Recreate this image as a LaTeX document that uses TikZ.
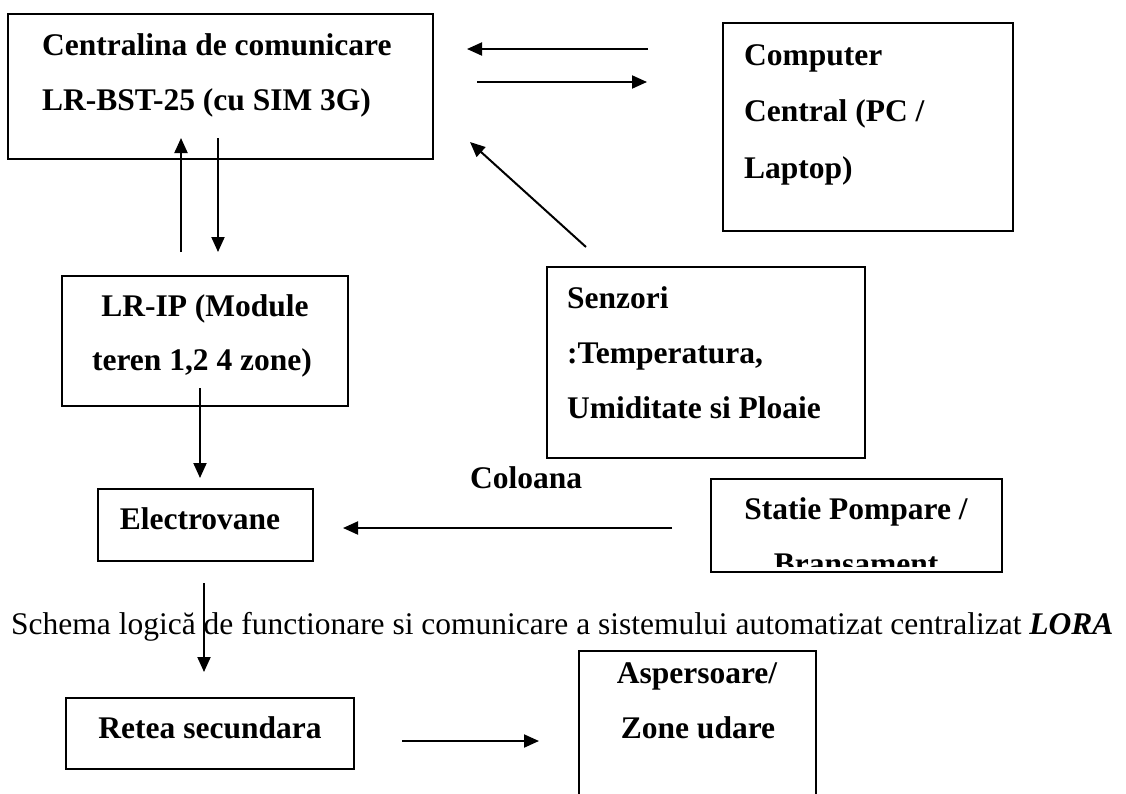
\documentclass[tikz,border=0pt]{standalone}
\usepackage{fontspec}
\setmainfont{Liberation Serif}
\usetikzlibrary{arrows.meta}
\begin{document}
\begin{tikzpicture}[x=1pt,y=-1pt,
  box/.style={draw, line width=2.4pt, inner sep=0pt},
  lbl/.style={inner sep=0pt, anchor=base west, font=\fontsize{31.5}{38}\selectfont\bfseries},
  clbl/.style={lbl, anchor=base},
  conn/.style={line width=2pt, -{Triangle[length=15pt,width=13pt]}}]
\useasboundingbox (0,0) rectangle (1126,793);
\clip (0,0) rectangle (1126,793);
% boxes
\node[box, minimum width=425pt, minimum height=145pt] (cen) at (220.5,86.5) {};
\node[box, minimum width=290pt, minimum height=208pt] (comp) at (868,127) {};
\node[box, minimum width=286pt, minimum height=130pt] (lrip) at (205,341) {};
\node[box, minimum width=318pt, minimum height=191pt] (senz) at (706,362.5) {};
\node[box, minimum width=215pt, minimum height=72pt] (elec) at (205.5,525) {};
\node[box, minimum width=291pt, minimum height=93pt] (stat) at (856.5,525.5) {};
\node[box, minimum width=288pt, minimum height=71pt] (retea) at (210,733.5) {};
\node[box, minimum width=237pt, minimum height=149pt] (asp) at (697.5,725.5) {};
% texts
\node[lbl] (cen1) at (42,55) {Centralina de comunicare};
\node[lbl] (cen2) at (42,110) {LR-BST-25 (cu SIM 3G)};
\node[lbl] (comp1) at (744,65) {Computer};
\node[lbl] (comp2) at (744,121) {Central (PC /};
\node[lbl] (comp3) at (744,178) {Laptop)};
\node[clbl] (lrip1) at (205,316) {LR-IP (Module};
\node[clbl] (lrip2) at (202,370) {teren 1,2 4 zone)};
\node[lbl] (senz1) at (567,308) {Senzori};
\node[lbl] (senz2) at (567,363) {:Temperatura,};
\node[lbl] (senz3) at (567,418) {Umiditate si Ploaie};
\node[clbl] (elec1) at (200,529) {Electrovane};
\node[lbl] (col) at (470,488) {Coloana};
\node[clbl] (stat1) at (856,519) {Statie Pompare /};
\begin{scope}
\clip (711,479) rectangle (1002,566);
\node[clbl] (stat2) at (856,574.5) {Bransament};
\end{scope}
\node[clbl] (ret1) at (210,738) {Retea secundara};
\node[clbl] (asp1) at (697,683) {Aspersoare/};
\node[clbl] (asp2) at (698,738) {Zone udare};
\node[inner sep=0pt, anchor=base west, font=\fontsize{31.5}{38}\selectfont] (cap) at (11,634)
  {Schema logică de functionare si comunicare a sistemului automatizat centralizat \textbf{\textit{LORA}}};
% connector end points
\coordinate (a1s) at (648,49);  \coordinate (a1e) at (467,49);
\coordinate (a2s) at (477,82);  \coordinate (a2e) at (647,82);
\coordinate (a3s) at (586,247); \coordinate (a3e) at (470,142);
\coordinate (a4s) at (181,252); \coordinate (a4e) at (181,138);
\coordinate (a5s) at (218,138); \coordinate (a5e) at (218,252);
\coordinate (a6s) at (200,388); \coordinate (a6e) at (200,478);
\coordinate (a7s) at (672,528); \coordinate (a7e) at (343,528);
\coordinate (a8s) at (204,583); \coordinate (a8e) at (204,672);
\coordinate (a9s) at (402,741); \coordinate (a9e) at (539,741);
\draw[conn] (a1s) -- (a1e);
\draw[conn] (a2s) -- (a2e);
\draw[conn] (a3s) -- (a3e);
\draw[conn] (a4s) -- (a4e);
\draw[conn] (a5s) -- (a5e);
\draw[conn] (a6s) -- (a6e);
\draw[conn] (a7s) -- (a7e);
\draw[conn] (a8s) -- (a8e);
\draw[conn] (a9s) -- (a9e);
\end{tikzpicture}
\end{document}
